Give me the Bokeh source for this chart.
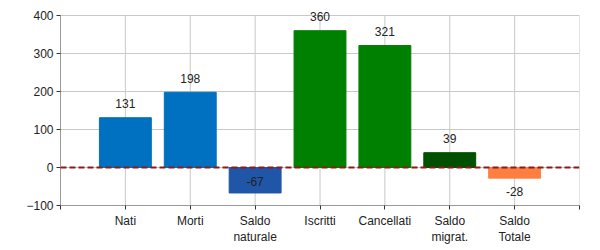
from bokeh.plotting import figure
from bokeh.models import Range1d, FixedTicker, ColumnDataSource, Span, LabelSet
from bokeh.embed import file_html
from bokeh.resources import INLINE
from bokeh.core.properties import value

categories = ["Nati", "Morti", "Saldo\nnaturale", "Iscritti", "Cancellati", "Saldo\nmigrat.", "Saldo\nTotale"]
values = [131, 198, -67, 360, 321, 39, -28]
colors = ["#0070C0", "#0070C0", "#1F56A8", "#008000", "#008000", "#005000", "#FF7F40"]
y_ticks = [-100, 0, 100, 200, 300, 400]

y_min, y_max = y_ticks[0], y_ticks[-1]
xs = list(range(len(categories)))
label_y = []
for v in values:
    if v >= 0:
        label_y.append(v + 37)
    elif v - 35 > -85:
        label_y.append(v - 35)
    else:
        label_y.append(v + 30)
src = ColumnDataSource(dict(x=xs, top=values, color=colors, ly=label_y,
                            txt=[str(v) for v in values]))

# frame extends 10px above the top gridline so labels above it are not clipped
top_px, bottom_px, grid_px = 5, 45, 190
ext = (y_max - y_min) * (250 - top_px - bottom_px) / grid_px + y_min

p = figure(width=600, height=250, output_backend="svg", toolbar_location=None,
           x_range=Range1d(-1, len(categories)), y_range=Range1d(y_min, ext),
           min_border_left=60, min_border_right=21, min_border_top=top_px,
           min_border_bottom=bottom_px)
p.outline_line_color = None
p.background_fill_color = "white"

xt = list(range(-1, len(categories) + 1))
p.segment(x0=xt, x1=xt, y0=[y_min] * len(xt), y1=[y_max] * len(xt),
          line_color="#C8C8C8", line_width=1)
p.vbar(x="x", top="top", bottom=0, width=0.8, color="color", source=src)
p.add_layout(Span(location=0, dimension="width", line_color="#8B1A1A",
                  line_width=2, line_dash="6 3"))
p.add_layout(LabelSet(x="x", y="ly", text="txt", source=src, text_align="center",
                      text_baseline="middle", text_font=value("Liberation Sans"),
                      text_font_size=value("12px"), text_color=value("#222222")))

p.xaxis.ticker = FixedTicker(ticks=xt)
p.xaxis.major_label_overrides = {i: (categories[i] if 0 <= i < len(categories) else "") for i in xt}
p.yaxis.ticker = FixedTicker(ticks=y_ticks)
p.yaxis.bounds = (y_min, y_max)
for ax in (p.xaxis, p.yaxis):
    ax.axis_line_color = "#999999"
    ax.major_tick_line_color = "#333333"
    ax.major_tick_out = 4
    ax.major_tick_in = 0
    ax.minor_tick_line_color = None
    ax.major_label_text_font = "Liberation Sans"
    ax.major_label_text_font_size = "12px"
    ax.major_label_text_color = "#222222"
p.xaxis.major_label_standoff = 4
p.yaxis.major_label_standoff = 3
p.xgrid.grid_line_color = None
p.ygrid.ticker = FixedTicker(ticks=y_ticks)
p.ygrid.grid_line_color = "#C8C8C8"
p.ygrid.grid_line_width = 1

open("out.html", "w").write(file_html(p, INLINE))
